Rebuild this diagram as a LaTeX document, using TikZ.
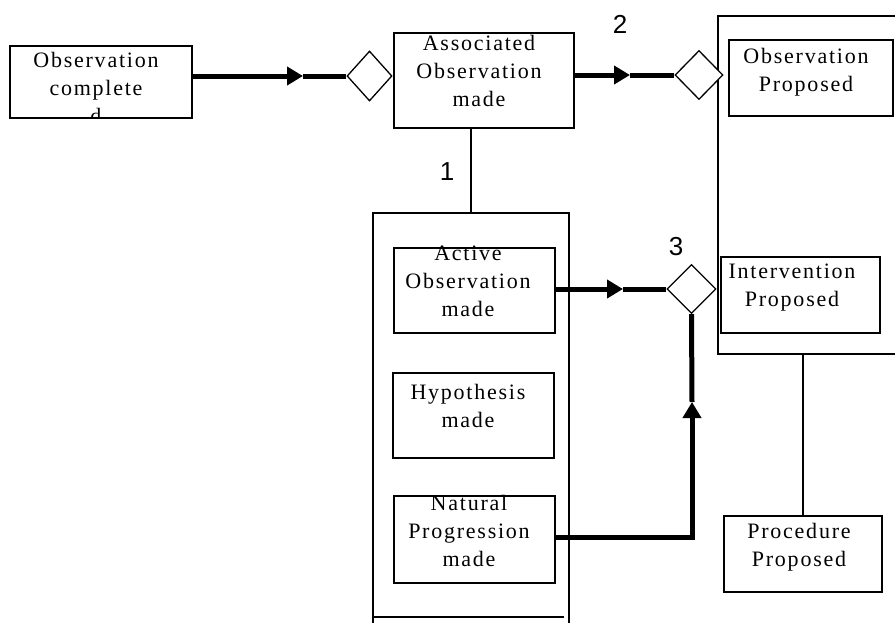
\documentclass[tikz,border=0pt]{standalone}
\usepackage{fontspec}
\setmainfont{Liberation Serif}
\newfontfamily\boxfont[LetterSpace=8]{Liberation Serif}
\newfontfamily\numfont{Liberation Sans}
\usetikzlibrary{shapes.geometric,arrows.meta}
\begin{document}
\begin{tikzpicture}[x=1pt,y=-1pt,
  box/.style={draw,line width=1.6pt,rectangle,inner sep=0pt},
  cont/.style={draw,line width=1.6pt,rectangle,inner sep=0pt},
  dia/.style={draw,line width=1.3pt,diamond,inner sep=0pt,fill=white},
  txt/.style={font=\boxfont\fontsize{22}{28}\selectfont,align=center,inner sep=0pt,anchor=base},
  num/.style={font=\numfont\fontsize{26}{30}\selectfont,inner sep=0pt},
  thickline/.style={line width=5pt},
  thinline/.style={line width=1.6pt},
  tip/.style={-{Triangle[length=16pt,width=18pt]}}]
\useasboundingbox (0,0) rectangle (895,622);
\clip (0,0) rectangle (895,622);
% containers
\node[cont,minimum width=196pt,minimum height=430pt,anchor=north west] (leftc) at (372,212) {};
\node[cont,minimum width=200pt,minimum height=338pt,anchor=north west] (rightc) at (717,15) {};
\coordinate (lcinA) at (372,617);
\coordinate (lcinB) at (564,617);
\draw[thinline] (lcinA) -- (lcinB);
% boxes
\node[box,minimum width=182pt,minimum height=72pt,anchor=north west] (oc) at (9,45) {};
\node[box,minimum width=180pt,minimum height=95pt,anchor=north west] (assoc) at (393,32) {};
\node[box,minimum width=164pt,minimum height=76pt,anchor=north west] (op) at (728,39) {};
\node[box,minimum width=161pt,minimum height=85pt,anchor=north west] (act) at (393,247) {};
\node[box,minimum width=159pt,minimum height=76pt,anchor=north west] (ip) at (720,256) {};
\node[box,minimum width=161pt,minimum height=85pt,anchor=north west] (hyp) at (392,372) {};
\node[box,minimum width=161pt,minimum height=87pt,anchor=north west] (np) at (393,495) {};
\node[box,minimum width=158pt,minimum height=76pt,anchor=north west] (proc) at (723,515) {};
% texts (anchored at last-line baseline)
\begin{scope}
\clip (oc.north west) rectangle (oc.south east);
\node[txt] (octxt) at (96,123) {Observation\\complete\\d};
\end{scope}
\node[txt] (assoctxt) at (479,106) {Associated\\Observation\\made};
\node[txt] (optxt) at (806,91) {Observation\\Proposed};
\node[txt] (acttxt) at (468,316) {Active\\Observation\\made};
\node[txt] (iptxt) at (792,306) {Intervention\\Proposed};
\node[txt] (hyptxt) at (468,427) {Hypothesis\\made};
\node[txt] (nptxt) at (469,566) {Natural\\Progression\\made};
\node[txt] (proctxt) at (799,566) {Procedure\\Proposed};
% diamonds
\node[dia,minimum width=45pt,minimum height=50pt] (d1) at (369.5,76) {};
\node[dia,minimum width=48pt,minimum height=49pt] (d2) at (699,75) {};
\node[dia,minimum width=49pt,minimum height=49pt] (d3) at (691.5,289) {};
% numbers
\node[num] (n1) at (447,172) {1};
\node[num] (n2) at (620,24) {2};
\node[num] (n3) at (676,247) {3};
% connectors
\coordinate (t1) at (303,76);
\coordinate (t2) at (630,75);
\coordinate (t3) at (623,289);
\coordinate (corner) at (692,537);
\coordinate (t4) at (692,402);
\draw[thickline,tip] (oc.east |- d1.west) -- (t1);
\draw[thickline] (t1) -- (d1.west);
\draw[thickline,tip] (assoc.east |- d2.west) -- (t2);
\draw[thickline] (t2) -- (d2.west);
\draw[thickline,tip] (act.east |- d3.west) -- (t3);
\draw[thickline] (t3) -- (d3.west);
\draw[thickline,tip] (np.east |- corner) -- (corner) -- (t4);
\draw[thickline] (t4) -- (d3.south);
\draw[thinline] (assoc.south -| 471,0) -- (leftc.north -| 471,0);
\draw[thinline] (rightc.south -| proc.north) -- (proc.north);
\end{tikzpicture}
\end{document}
